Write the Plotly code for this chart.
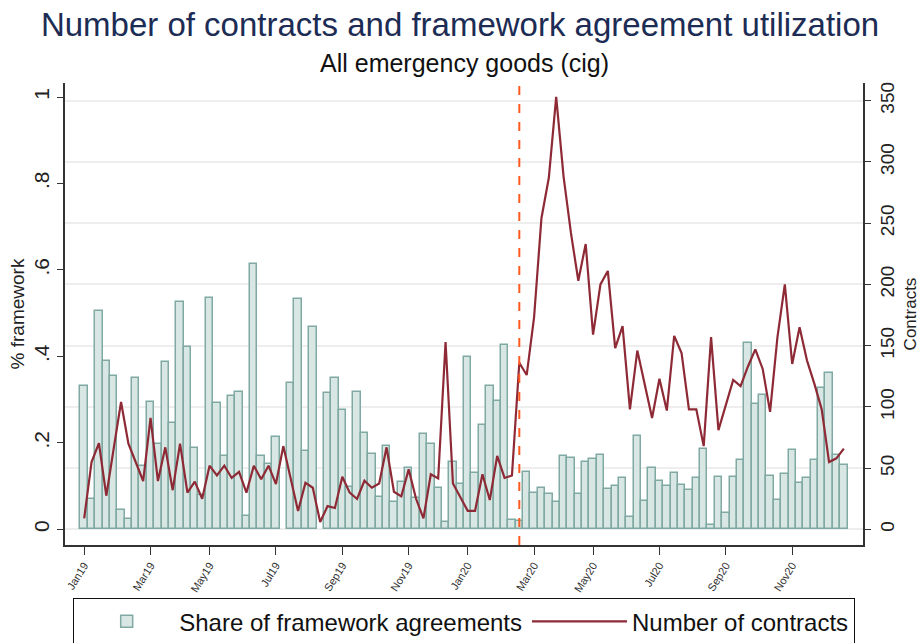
import plotly.graph_objects as go

# ---------------- data ----------------
weeks = list(range(104))

share = [
    0.331, 0.070, 0.505, 0.390, 0.355, 0.046, 0.025, 0.349, 0.147, 0.295,
    0.198, 0.386, 0.247, 0.526, 0.421, 0.188, 0.080, 0.536, 0.293, 0.170,
    0.308, 0.318, 0.031, 0.613, 0.169, 0.152, 0.214, None, 0.339, 0.532,
    0.182, 0.468, None, 0.315, 0.350, 0.277, 0.097, 0.318, 0.222, 0.174,
    0.076, 0.192, 0.063, 0.109, 0.141, 0.072, 0.220, 0.198, 0.095, 0.017,
    0.156, 0.105, 0.398, 0.131, 0.241, 0.331, 0.298, 0.427, 0.021, 0.020,
    0.133, 0.085, 0.096, 0.081, 0.063, 0.170, 0.164, 0.083, 0.157, 0.162,
    0.172, 0.093, 0.100, 0.118, 0.028, 0.217, 0.066, 0.141, 0.111, 0.101,
    0.130, 0.103, 0.090, 0.120, 0.186, 0.010, 0.121, 0.037, 0.121, 0.160,
    0.431, 0.291, 0.311, 0.123, 0.068, 0.129, 0.183, 0.107, 0.119, 0.160,
    0.328, 0.362, 0.171, 0.149,
]

contracts = [
    9, 55, 70.5, 27.5, 66, 104, 70, 55, 39.5, 91,
    39.5, 67, 32, 70, 30, 39, 25, 52, 44, 52,
    42, 47, 30, 52, 41, 52, 37, 68, 41, 15,
    38, 34, 6, 19, 17.5, 43, 30, 24.8, 39.7, 34,
    37.5, 67, 30.7, 27, 49, 25, 9, 45, 41.6, 153,
    37.5, 26.5, 15.2, 15.2, 45, 24, 60, 42, 44, 136,
    126, 173, 254, 287, 353, 288, 242, 203, 233, 159,
    200, 211, 148, 166, 98, 146, 118, 91, 123, 97,
    158, 144, 98, 98, 68, 157, 81, 102, 122, 117,
    133, 147, 131, 96, 157, 200, 135, 165, 138, 119,
    98, 55, 58, 66,
]

event_week = 59

tick_weeks = [0, 9, 17, 26, 35, 44, 52, 61, 69, 78, 87, 96]
tick_labels = ["Jan19", "Mar19", "May19", "Jul19", "Sep19", "Nov19",
               "Jan20", "Mar20", "May20", "Jul20", "Sep20", "Nov20"]

share_ticks = [0, 0.2, 0.4, 0.6, 0.8, 1.0]
share_tick_labels = ["0", ".2", ".4", ".6", ".8", "1"]
contract_ticks = [0, 50, 100, 150, 200, 250, 300, 350]

# ---------------- figure ----------------
FONT = "Liberation Sans, Arial, sans-serif"

fig = go.Figure()

fig.add_trace(go.Bar(
    x=weeks, y=share, width=1,
    name="Share of framework agreements",
    marker=dict(color="#d9e7e4", line=dict(color="#7fa9a2", width=1.5)),
    yaxis="y",
))

fig.add_trace(go.Scatter(
    x=weeks, y=contracts, mode="lines",
    name="Number of contracts",
    line=dict(color="#8e2a36", width=2.2),
    yaxis="y2",
))

fig.add_vline(x=event_week, line=dict(color="#ff5a1f", dash="dash", width=2))

fig.update_layout(
    width=920, height=643,
    margin=dict(l=65, r=57, t=83, b=98, autoexpand=False),
    paper_bgcolor="white", plot_bgcolor="white",
    font=dict(family=FONT, color="#222222"),
    bargap=0,
    title=dict(
        text="Number of contracts and framework agreement utilization",
        x=0.5, xanchor="center", y=0.962, yanchor="middle",
        font=dict(size=33, color="#1c2c54", family=FONT),
    ),
    annotations=[dict(
        text="All emergency goods (cig)", xref="paper", yref="paper",
        x=0.5, y=1.043, xanchor="center", yanchor="middle", showarrow=False,
        font=dict(size=25, color="#111111", family=FONT),
    )],
    xaxis=dict(
        range=[-2.6, 105.6], automargin=False,
        tickmode="array", tickvals=tick_weeks, ticktext=tick_labels,
        tickangle=-58, tickfont=dict(size=11, color="#333333"),
        ticks="outside", ticklen=8, tickcolor="#333333", tickwidth=1.2,
        showline=True, linecolor="#333333", linewidth=1.5,
        showgrid=False, zeroline=False,
    ),
    yaxis=dict(
        range=[-0.0361, 1.0324], automargin=False,
        tickmode="array", tickvals=share_ticks, ticktext=share_tick_labels,
        tickangle=-90, tickfont=dict(size=21, color="#222222"),
        ticks="outside", ticklen=6, tickcolor="#333333", tickwidth=1.2,
        showline=True, linecolor="#333333", linewidth=1.5,
        showgrid=False, zeroline=False,
        title=dict(text="% framework", font=dict(size=19, color="#222222"), standoff=0),
    ),
    yaxis2=dict(
        overlaying="y", side="right", automargin=False,
        range=[-12.73, 364.4],
        tickmode="array", tickvals=contract_ticks,
        tickangle=-90, tickfont=dict(size=19, color="#222222"),
        ticks="outside", ticklen=6, tickcolor="#333333", tickwidth=1.2,
        showline=True, linecolor="#333333", linewidth=1.5,
        showgrid=True, gridcolor="#eeeeee", gridwidth=1.5,
        zeroline=False,
        title=dict(text="Contracts", font=dict(size=17, color="#222222"), standoff=10),
    ),
    legend=dict(
        orientation="h", x=0.01, xanchor="left",
        yref="container", y=0.07, yanchor="top",
        bordercolor="#111111", borderwidth=1.2, bgcolor="white",
        font=dict(size=24, color="#111111", family=FONT),
        itemwidth=95,
    ),
)

fig.write_html("out.html")
